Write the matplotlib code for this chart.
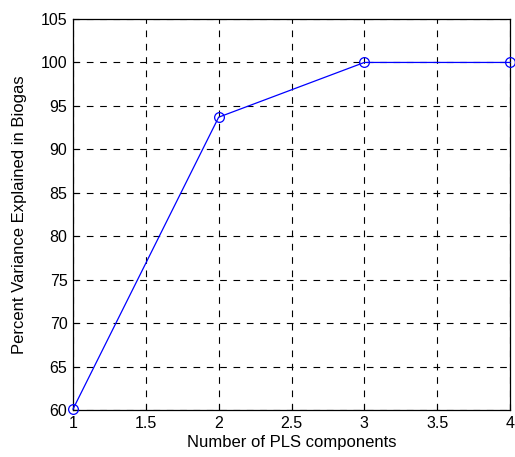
import matplotlib
matplotlib.use('Agg')
import matplotlib.pyplot as plt

n_components = [1, 2, 3, 4]
pct_variance = [60.1, 93.7, 100.0, 100.0]
x_ticks = [1, 1.5, 2, 2.5, 3, 3.5, 4]
y_ticks = [60, 65, 70, 75, 80, 85, 90, 95, 100, 105]

plt.rcParams['font.family'] = ['Liberation Sans', 'DejaVu Sans']

fig = plt.figure(figsize=(5.15, 4.57), dpi=100)
ax = fig.add_axes([73 / 515, 1 - 410 / 457, (510 - 73) / 515, (410 - 19) / 457])

ax.plot(n_components, pct_variance, color='blue', linewidth=0.9,
        marker='o', markersize=7, markerfacecolor='none', markeredgecolor='blue',
        markeredgewidth=0.9, clip_on=False, zorder=3)

ax.set_xlim(1, 4)
ax.set_ylim(60, 105)
ax.set_xticks(x_ticks)
ax.set_xticklabels(['1', '1.5', '2', '2.5', '3', '3.5', '4'])
ax.set_yticks(y_ticks)
ax.grid(True, color='black', linestyle=(0, (6, 6)), linewidth=0.8)
ax.tick_params(direction='in', length=4, labelsize=11.5, width=0.8, pad=4)
for s in ax.spines.values():
    s.set_linewidth(0.9)

ax.set_xlabel('Number of PLS components', fontsize=12, labelpad=3)
ax.set_ylabel('Percent Variance Explained in Biogas', fontsize=12, labelpad=10)

fig.savefig('out.png', dpi=100)
